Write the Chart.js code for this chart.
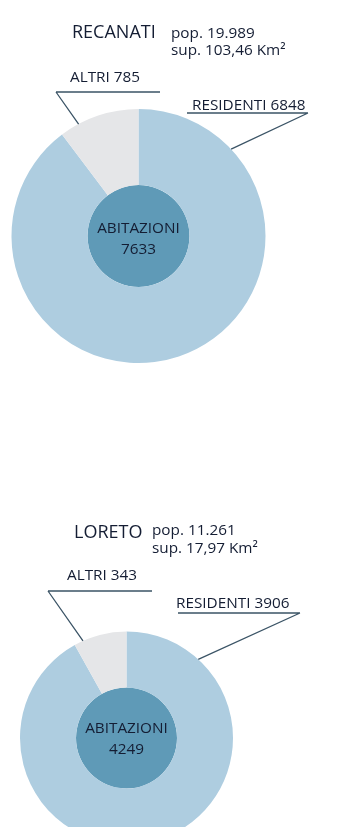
<!DOCTYPE html>
<html>
<head>
<meta charset="utf-8">
<script src="https://cdn.jsdelivr.net/npm/chart.js@4.4.1/dist/chart.umd.min.js"></script>
<style>
	html, body { margin: 0; padding: 0; background: #fff; overflow: hidden; }
	#wrap { position: relative; width: 338px; height: 827px; overflow: hidden; font-family: "Open Sans", sans-serif; font-weight: 500; color: #141d33; }
	canvas { position: absolute; left: 0; }
	.t { position: absolute; white-space: nowrap; line-height: 1; }
	.city { font-size: 18px; }
	.info { font-size: 15.3px; }
	.lab { font-size: 15.3px; }
	.mid { font-size: 15.3px; text-align: center; line-height: 21px; width: 110px; }
</style>
</head>
<body>
<div id="wrap">
	<canvas id="chartRecanati" width="338" height="413" style="top:0"></canvas>
	<canvas id="chartLoreto" width="338" height="450" style="top:413px"></canvas>

	<div class="t city" style="left:72px;top:22px">RECANATI</div>
	<div class="t info" style="left:171px;top:25px">pop. 19.989</div>
	<div class="t info" style="left:171px;top:42px">sup. 103,46 Km²</div>
	<div class="t lab" style="left:70px;top:69px">ALTRI 785</div>
	<div class="t lab" style="left:192px;top:97px">RESIDENTI 6848</div>
	<div class="t mid" style="left:83.5px;top:217px">ABITAZIONI<br>7633</div>

	<div class="t city" style="left:74px;top:522px">LORETO</div>
	<div class="t info" style="left:152px;top:522px">pop. 11.261</div>
	<div class="t info" style="left:152px;top:540px">sup. 17,97 Km²</div>
	<div class="t lab" style="left:67px;top:567px">ALTRI 343</div>
	<div class="t lab" style="left:176px;top:595px">RESIDENTI 3906</div>
	<div class="t mid" style="left:71.5px;top:717px">ABITAZIONI<br>4249</div>
</div>
<script>
// data
const sliceLabels = ["RESIDENTI", "ALTRI"];
const recanatiSlices = [6848, 785];
const recanatiHomes = [7633];
const loretoSlices = [3906, 343];
const loretoHomes = [4249];

const lightBlue = "#aecde0";
const greySlice = "#e5e6e8";
const darkBlue = "#5f9ab7";
const lineColor = "#3b5466";

// draws underline + leader line from each label to the edge of its slice
const leaderPlugin = {
	id: "leaders",
	afterDraw(chart, args, opts) {
		const ctx = chart.ctx;
		const meta = chart.getDatasetMeta(0);
		ctx.save();
		ctx.strokeStyle = lineColor;
		ctx.lineWidth = 1.3;
		(opts.items || []).forEach((item) => {
			const arc = meta.data[item.index];
			const a = arc.startAngle + item.frac * (arc.endAngle - arc.startAngle);
			const px = arc.x + Math.cos(a) * arc.outerRadius;
			const py = arc.y + Math.sin(a) * arc.outerRadius;
			ctx.beginPath();
			ctx.moveTo(item.x1, item.y);
			ctx.lineTo(item.x2, item.y);
			ctx.moveTo(item.from === "left" ? item.x1 : item.x2, item.y);
			ctx.lineTo(px, py);
			ctx.stroke();
		});
		ctx.restore();
	},
};

function makePie(id, slices, homes, padding, weights, items) {
	return new Chart(document.getElementById(id), {
		type: "pie",
		data: {
			labels: sliceLabels,
			datasets: [
				{ data: slices, backgroundColor: [lightBlue, greySlice], borderWidth: 0, weight: weights[0] },
				{ data: homes, backgroundColor: [darkBlue], borderWidth: 0, weight: weights[1] },
			],
		},
		options: {
			responsive: false,
			animation: false,
			layout: { padding: padding },
			plugins: {
				legend: { display: false },
				tooltip: { enabled: false },
				leaders: { items: items },
			},
		},
		plugins: [leaderPlugin],
	});
}

makePie("chartRecanati", recanatiSlices, recanatiHomes,
	{ left: 11.5, right: 72.5, top: 109, bottom: 50 }, [76, 51],
	[
		{ index: 1, frac: 0.24, x1: 56, x2: 160, y: 92, from: "left" },
		{ index: 0, frac: 0.145, x1: 187, x2: 308, y: 113, from: "right" },
	]);

makePie("chartLoreto", loretoSlices, loretoHomes,
	{ left: 20, right: 105, top: 218.5, bottom: 18.5 }, [56, 50.5],
	[
		{ index: 1, frac: 0.17, x1: 48, x2: 152, y: 178, from: "left" },
		{ index: 0, frac: 0.128, x1: 178, x2: 300, y: 200, from: "right" },
	]);
</script>
</body>
</html>
